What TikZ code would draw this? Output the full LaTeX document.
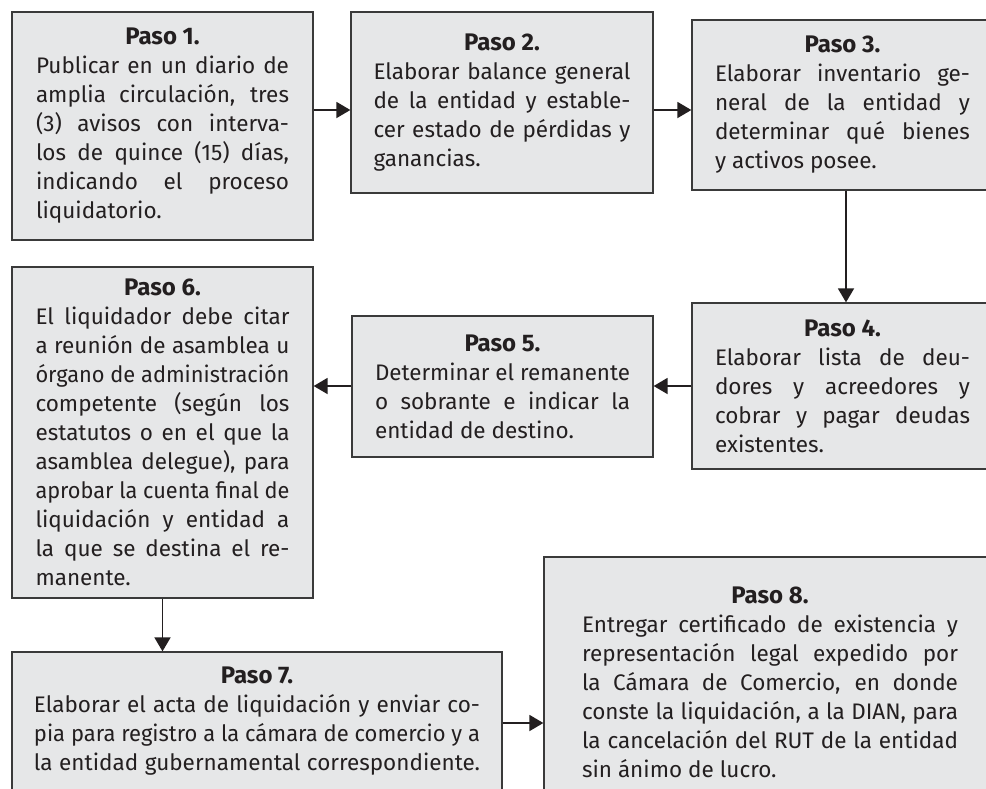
\documentclass[tikz,border=0pt]{standalone}
\usepackage{fontspec}
\usepackage{graphicx}
\setmainfont{Fira Sans}
\usetikzlibrary{arrows.meta,calc}
\definecolor{boxfill}{HTML}{E6E7E8}
\definecolor{boxline}{HTML}{3A3A3A}
\definecolor{txt}{HTML}{231F20}
\newsavebox\lnbox
\newcommand\steptitle[1]{\hbox to\linewidth{\hss\fontsize{24}{29}\selectfont\bfseries #1\hss}}
\newcommand\jl[1]{\sbox\lnbox{#1}\ifdim\wd\lnbox>\linewidth\hbox to\linewidth{\resizebox{\linewidth}{\height}{\usebox\lnbox}}\else\hbox to\linewidth{#1}\fi}
\newcommand\lastln[1]{\hbox to\linewidth{#1\hss}}
\newcommand\stepbody[2]{\parbox{#1}{\fontsize{22.5}{29}\selectfont\color{txt}#2}}
\begin{document}
\begin{tikzpicture}[x=1pt,y=-1pt,
  stepbox/.style={draw=boxline,fill=boxfill,line width=1.3pt,inner sep=0pt,rectangle,anchor=center},
  arr/.style={draw=txt,line width=1.8pt,-{Triangle[length=14pt,width=16pt]}}]
\useasboundingbox (0,0) rectangle (986,788);
\fill[white] (0,0) rectangle (986,788);
\node[stepbox,minimum width=301pt,minimum height=228pt] (s1) at (162.5,126) {\stepbody{253pt}{%
\steptitle{Paso 1.}
\jl{Publicar en un diario de}
\jl{amplia circulación, tres}
\jl{(3) avisos con interva-}
\jl{los de quince (15) días,}
\jl{indicando el proceso}
\lastln{liquidatorio.}}};
\node[stepbox,minimum width=302pt,minimum height=181pt] (s2) at (502,102.5) {\stepbody{257pt}{%
\steptitle{Paso 2.}
\jl{Elaborar balance general}
\jl{de la entidad y estable-}
\jl{cer estado de pérdidas y}
\lastln{ganancias.}}};
\node[stepbox,minimum width=308pt,minimum height=170pt] (s3) at (846,105) {\hspace*{-7pt}\stepbody{255pt}{%
\steptitle{Paso 3.}
\jl{Elaborar inventario ge-}
\jl{neral de la entidad y}
\jl{determinar qué bienes}
\lastln{y activos posee.}}};
\node[stepbox,minimum width=308pt,minimum height=166pt] (s4) at (846,386) {\hspace*{-7pt}\stepbody{255pt}{%
\steptitle{Paso 4.}
\jl{Elaborar lista de deu-}
\jl{dores y acreedores y}
\jl{cobrar y pagar deudas}
\lastln{existentes.}}};
\node[stepbox,minimum width=301pt,minimum height=141pt] (s5) at (502.5,386.5) {\stepbody{255pt}{%
\steptitle{Paso 5.}
\jl{Determinar el remanente}
\jl{o sobrante e indicar la}
\lastln{entidad de destino.}}};
\node[stepbox,minimum width=301pt,minimum height=331pt] (s6) at (162.5,432.5) {\stepbody{254pt}{%
\steptitle{Paso 6.}
\jl{El liquidador debe citar}
\jl{a reunión de asamblea u}
\jl{órgano de administración}
\jl{competente (según los}
\jl{estatutos o en el que la}
\jl{asamblea delegue), para}
\jl{aprobar la cuenta final de}
\jl{liquidación y entidad a}
\jl{la que se destina el re-}
\lastln{manente.}}};
\node[stepbox,minimum width=490pt,minimum height=138pt] (s7) at (257,721) {\stepbody{446pt}{%
\steptitle{Paso 7.}
\jl{Elaborar el acta de liquidación y enviar co-}
\jl{pia para registro a la cámara de comercio y a}
\jl{la entidad gubernamental correspondiente.}}};
\node[stepbox,minimum width=452pt,minimum height=250pt] (s8) at (770,682) {\stepbody{376pt}{%
\steptitle{Paso 8.}
\jl{Entregar certificado de existencia y}
\jl{representación legal expedido por}
\jl{la Cámara de Comercio, en donde}
\jl{conste la liquidación, a la DIAN, para}
\jl{la cancelación del RUT de la entidad}
\lastln{sin ánimo de lucro.}}};
\coordinate (ya) at (0,110);
\coordinate (yb) at (0,386);
\coordinate (yc) at (0,723);
\draw[arr] (s1.east |- ya) -- (s2.west |- ya);
\draw[arr] (s2.east |- ya) -- (s3.west |- ya);
\draw[arr] (s3.south) -- (s4.north);
\draw[arr] (s4.west |- yb) -- (s5.east |- yb);
\draw[arr] (s5.west |- yb) -- (s6.east |- yb);
\draw[arr] (s6.south) -- (s7.north -| s6.south);
\draw[arr] (s7.east |- yc) -- (s8.west |- yc);
\end{tikzpicture}
\end{document}
